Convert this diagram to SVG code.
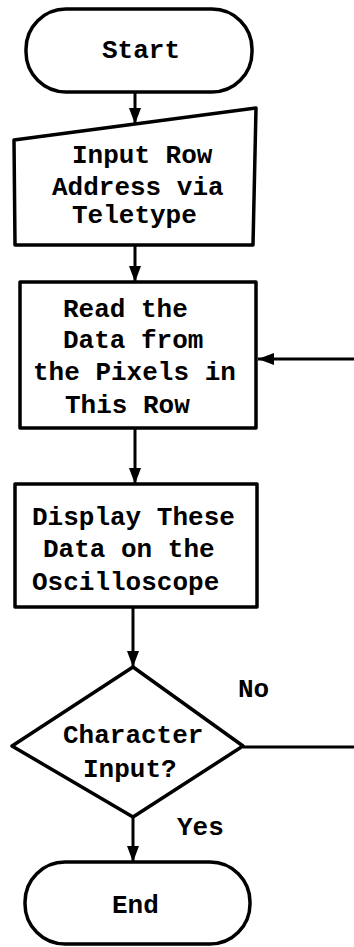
<svg xmlns="http://www.w3.org/2000/svg" width="354" height="947" viewBox="0 0 354 947">
<style>
.s{fill:#fff;stroke:#000;stroke-width:3.5;stroke-linejoin:round}
.c{fill:none;stroke:#000;stroke-width:3}
text{font-family:"Liberation Mono","DejaVu Sans Mono",monospace;font-size:26px;font-weight:bold;fill:#000}
</style>
<defs>
<marker id="ah" viewBox="0 0 16 14" refX="16" refY="7" markerWidth="16" markerHeight="14" markerUnits="userSpaceOnUse" orient="auto">
<path d="M0,1 L16,7 L0,13 Z" fill="#000"/>
</marker>
</defs>
<rect width="354" height="947" fill="#fff"/>
<g id="connectors">
<line class="c" x1="135" y1="92" x2="135" y2="124" marker-end="url(#ah)"/>
<line class="c" x1="135" y1="245" x2="135" y2="282" marker-end="url(#ah)"/>
<line class="c" x1="135" y1="428" x2="135" y2="484" marker-end="url(#ah)"/>
<line class="c" x1="133" y1="607" x2="133" y2="667" marker-end="url(#ah)"/>
<line class="c" x1="133" y1="817" x2="133" y2="862" marker-end="url(#ah)"/>
<line class="c" x1="243" y1="747" x2="354" y2="747"/>
<line class="c" x1="354" y1="359" x2="258" y2="359" marker-end="url(#ah)"/>
</g>
<g id="start">
<rect class="s" x="26" y="9" width="226" height="83" rx="40" ry="40"/>
<text x="102" y="58">Start</text>
</g>
<g id="input">
<path class="s" d="M14,140 L256,108 L253,245 L15,245 Z"/>
<text x="72" y="163">Input Row</text>
<text x="52" y="195">Address via</text>
<text x="72" y="223">Teletype</text>
</g>
<g id="read">
<rect class="s" x="20" y="282" width="236" height="146"/>
<text x="63" y="317">Read the</text>
<text x="63" y="348">Data from</text>
<text x="33" y="380">the Pixels in</text>
<text x="65" y="413">This Row</text>
</g>
<g id="display">
<rect class="s" x="15" y="484" width="242" height="123"/>
<text x="32" y="525">Display These</text>
<text x="43" y="557">Data on the</text>
<text x="32" y="590">Oscilloscope</text>
</g>
<g id="decision">
<path class="s" d="M133,667 L243,746 L133,817 L12,746 Z"/>
<text x="63" y="743">Character</text>
<text x="83" y="777">Input?</text>
</g>
<text x="238" y="697">No</text>
<text x="177" y="835">Yes</text>
<g id="end">
<rect class="s" x="25" y="862" width="225" height="82" rx="40" ry="40"/>
<text x="112" y="913">End</text>
</g>
</svg>
